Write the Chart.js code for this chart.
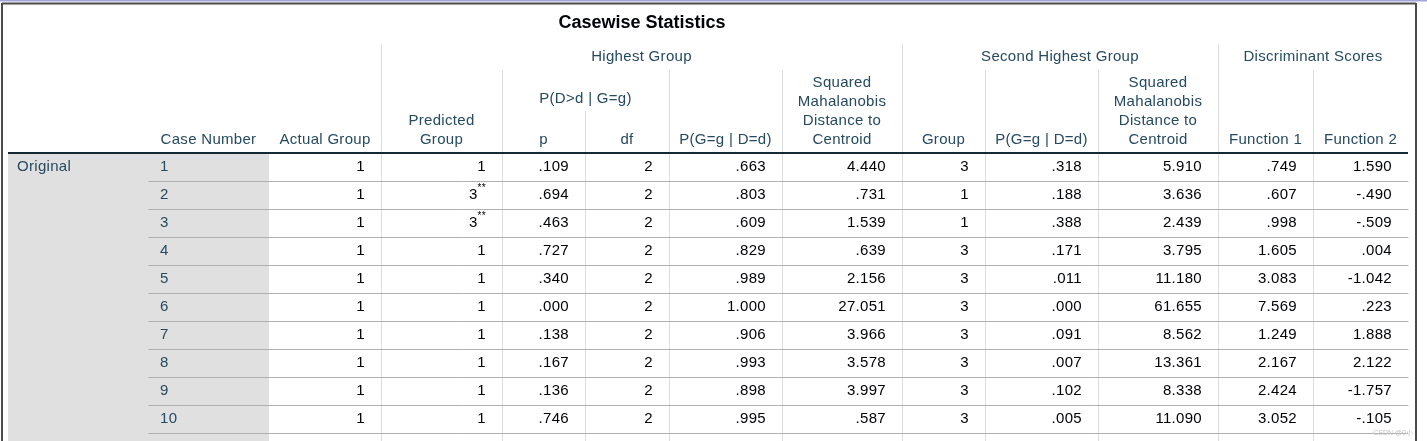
<!DOCTYPE html>
<html>
<head>
<meta charset="utf-8">
<title>Casewise Statistics</title>
<script src="https://cdn.jsdelivr.net/npm/chart.js@4.4.1/dist/chart.umd.min.js"></script>
<style>
  html, body { margin:0; padding:0; background:#fff; overflow:hidden; }
  #wrap { position:relative; width:1427px; height:441px; }
</style>
</head>
<body>
<div id="wrap"><canvas id="casewise"></canvas></div>
<script>
'use strict';

const caseNumbers    = ['1','2','3','4','5','6','7','8','9','10'];
const actualGroup    = [1,1,1,1,1,1,1,1,1,1];
const predictedGroup = [1,3,3,1,1,1,1,1,1,1];
const misclassified  = [false,true,true,false,false,false,false,false,false,false];
const pHighest       = [.109,.694,.463,.727,.340,.000,.138,.167,.136,.746];
const dfHighest      = [2,2,2,2,2,2,2,2,2,2];
const postHighest    = [.663,.803,.609,.829,.989,1.000,.906,.993,.898,.995];
const mahalHighest   = [4.440,.731,1.539,.639,2.156,27.051,3.966,3.578,3.997,.587];
const groupSecond    = [3,1,1,3,3,3,3,3,3,3];
const postSecond     = [.318,.188,.388,.171,.011,.000,.091,.007,.102,.005];
const mahalSecond    = [5.910,3.636,2.439,3.795,11.180,61.655,8.562,13.361,8.338,11.090];
const function1      = [.749,.607,.998,1.605,3.083,7.569,1.249,2.167,2.424,3.052];
const function2      = [1.590,-.490,-.509,.004,-1.042,.223,1.888,2.122,-1.757,-.105];

const tableTitle = 'Casewise Statistics';
const stubLabel  = 'Original';
const mahalHead  = ['Squared','Mahalanobis','Distance to','Centroid'];
const spanHeads  = [
  { text:'Highest Group',        from:2,  to:7  },
  { text:'Second Highest Group', from:7,  to:10 },
  { text:'Discriminant Scores',  from:10, to:12 },
  { text:'P(D>d | G=g)',         from:3,  to:5  },
];

// ── Layout (frame is 1427 x 441) ──
const COL_EDGES = [148, 269, 381, 502, 585, 669, 782, 902, 985, 1098, 1218, 1313, 1408];
const VLINE_TOP = [null, null, 44, 70, 111, 70, 70, 44, 70, 70, 44, 70, null];
const HEAD_Y    = { title:23, span:57, mid:99, last:140, line:19 };
const CELL_PAD  = 16;
const FONT      = '"Liberation Sans", Arial, sans-serif';
const C_HEAD = '#264a60', C_DATA = '#010205', C_ROWLINE = '#b0b0b0',
      C_VLINE = '#dddddd', C_STUB = '#e0e0e0', C_HEADLINE = '#152935';

// SPSS style numbers: .109, -.490, 27.051
const spss3 = v => v.toFixed(3).replace(/^(-?)0\./, '$1.');
const plain = v => String(v);

const columns = [
  { head:['Case Number'],        values:caseNumbers,    fmt:plain, align:'left' },
  { head:['Actual Group'],       values:actualGroup,    fmt:plain },
  { head:['Predicted','Group'],  values:predictedGroup, fmt:plain, sup:misclassified },
  { head:['p'],                  values:pHighest,       fmt:spss3 },
  { head:['df'],                 values:dfHighest,      fmt:plain },
  { head:['P(G=g | D=d)'],       values:postHighest,    fmt:spss3 },
  { head:mahalHead,              values:mahalHighest,   fmt:spss3 },
  { head:['Group'],              values:groupSecond,    fmt:plain },
  { head:['P(G=g | D=d)'],       values:postSecond,     fmt:spss3 },
  { head:mahalHead,              values:mahalSecond,    fmt:spss3 },
  { head:['Function 1'],         values:function1,      fmt:spss3 },
  { head:['Function 2'],         values:function2,      fmt:spss3 },
];

function _line(ctx, x1, y1, x2, y2) {
  ctx.beginPath();
  ctx.moveTo(x1, y1);
  ctx.lineTo(x2, y2);
  ctx.stroke();
}

const tablePlugin = {
  id: 'spssTable',
  beforeDraw(chart) {
    const { ctx, chartArea, scales: { x, y } } = chart;
    const W = chart.width, H = chart.height;
    const px = v => Math.round(x.getPixelForValue(v)) + 0.5;
    const rowEdge = i => Math.round(y.getPixelForValue(i - 0.5)) + 0.5;
    const n = caseNumbers.length;

    ctx.save();
    ctx.fillStyle = '#fff';
    ctx.fillRect(0, 0, W, H);

    // stub shading
    ctx.fillStyle = C_STUB;
    ctx.fillRect(x.getPixelForValue(8), chartArea.top, x.getPixelForValue(COL_EDGES[1]) - x.getPixelForValue(8), H - chartArea.top);

    // vertical rules
    ctx.strokeStyle = C_VLINE;
    ctx.lineWidth = 1;
    COL_EDGES.forEach((e, k) => {
      if (VLINE_TOP[k] == null) return;
      _line(ctx, px(e), VLINE_TOP[k], px(e), H);
    });

    // row rules
    ctx.strokeStyle = C_ROWLINE;
    for (let i = 1; i <= n; i++) {
      _line(ctx, px(COL_EDGES[0]), rowEdge(i), px(COL_EDGES[COL_EDGES.length - 1]), rowEdge(i));
    }

    // header bottom
    ctx.strokeStyle = C_HEADLINE;
    ctx.lineWidth = 2;
    _line(ctx, x.getPixelForValue(8), chartArea.top, x.getPixelForValue(COL_EDGES[COL_EDGES.length - 1]), chartArea.top);

    // outer frame
    ctx.strokeStyle = '#a4a4dc';
    ctx.lineWidth = 1.5;
    _line(ctx, 0, 0.75, W, 0.75);
    ctx.strokeStyle = '#4a4a4a';
    ctx.lineWidth = 2;
    _line(ctx, 2, 3.5, 1416, 3.5);
    _line(ctx, 2, 3, 2, H);
    _line(ctx, 1416, 3, 1416, H);

    // title
    ctx.fillStyle = C_DATA;
    ctx.textBaseline = 'middle';
    ctx.textAlign = 'center';
    ctx.font = 'bold 18px ' + FONT;
    ctx.fillText(tableTitle, x.getPixelForValue(642), HEAD_Y.title);

    // header labels
    ctx.font = '15px ' + FONT;
    ctx.letterSpacing = '0.3px';
    ctx.fillStyle = C_HEAD;
    spanHeads.forEach(s => {
      const cx = (x.getPixelForValue(COL_EDGES[s.from]) + x.getPixelForValue(COL_EDGES[s.to])) / 2;
      ctx.fillText(s.text, cx, s.from === 3 ? HEAD_Y.mid : HEAD_Y.span);
    });
    columns.forEach((c, ci) => {
      const cx = (x.getPixelForValue(COL_EDGES[ci]) + x.getPixelForValue(COL_EDGES[ci + 1])) / 2;
      c.head.forEach((t, li) => {
        ctx.fillText(t, cx, HEAD_Y.last - (c.head.length - 1 - li) * HEAD_Y.line);
      });
    });

    // stub label
    ctx.textAlign = 'left';
    ctx.fillText(stubLabel, x.getPixelForValue(17), y.getPixelForValue(0));

    // watermark
    ctx.letterSpacing = '0px';
    ctx.font = '7px ' + FONT;
    ctx.fillStyle = '#c4c4c4';
    ctx.textAlign = 'right';
    ctx.fillText('CSDN @0小', 1413, 433);
    ctx.restore();
  },
  afterDatasetsDraw(chart) {
    const { ctx } = chart;
    ctx.save();
    ctx.textBaseline = 'middle';
    ctx.letterSpacing = '0.3px';
    chart.data.datasets.forEach((ds, ci) => {
      const col = columns[ci];
      const meta = chart.getDatasetMeta(ci);
      meta.data.forEach((el, i) => {
        const txt = col.fmt(col.values[i]);
        ctx.font = '15px ' + FONT;
        ctx.fillStyle = ci === 0 ? C_HEAD : C_DATA;
        if (col.align === 'left') {
          ctx.textAlign = 'left';
          ctx.fillText(txt, el.x, el.y);
          return;
        }
        ctx.textAlign = 'right';
        if (col.sup && col.sup[i]) {
          ctx.font = '10px ' + FONT;
          const w = ctx.measureText('**').width;
          ctx.fillText('**', el.x, el.y - 7);
          ctx.font = '15px ' + FONT;
          ctx.fillText(txt, el.x - w, el.y);
        } else {
          ctx.fillText(txt, el.x, el.y);
        }
      });
    });
    ctx.restore();
  }
};

new Chart(document.getElementById('casewise'), {
  type: 'scatter',
  data: {
    datasets: columns.map((c, ci) => ({
      label: c.head.join(' '),
      data: c.values.map((v, i) => ({
        x: c.align === 'left' ? COL_EDGES[ci] + 12 : COL_EDGES[ci + 1] - CELL_PAD,
        y: caseNumbers[i]
      })),
      pointRadius: 0,
      pointHoverRadius: 0,
    }))
  },
  options: {
    responsive: true,
    maintainAspectRatio: false,
    animation: false,
    events: [],
    layout: { padding: { top: 153, bottom: 8, left: 0, right: 0 } },
    plugins: { legend: { display: false }, tooltip: { enabled: false } },
    scales: {
      x: { type: 'linear', min: 0, max: 1427, display: false },
      y: { type: 'category', labels: caseNumbers, offset: true, display: false }
    }
  },
  plugins: [tablePlugin]
});
</script>
</body>
</html>
